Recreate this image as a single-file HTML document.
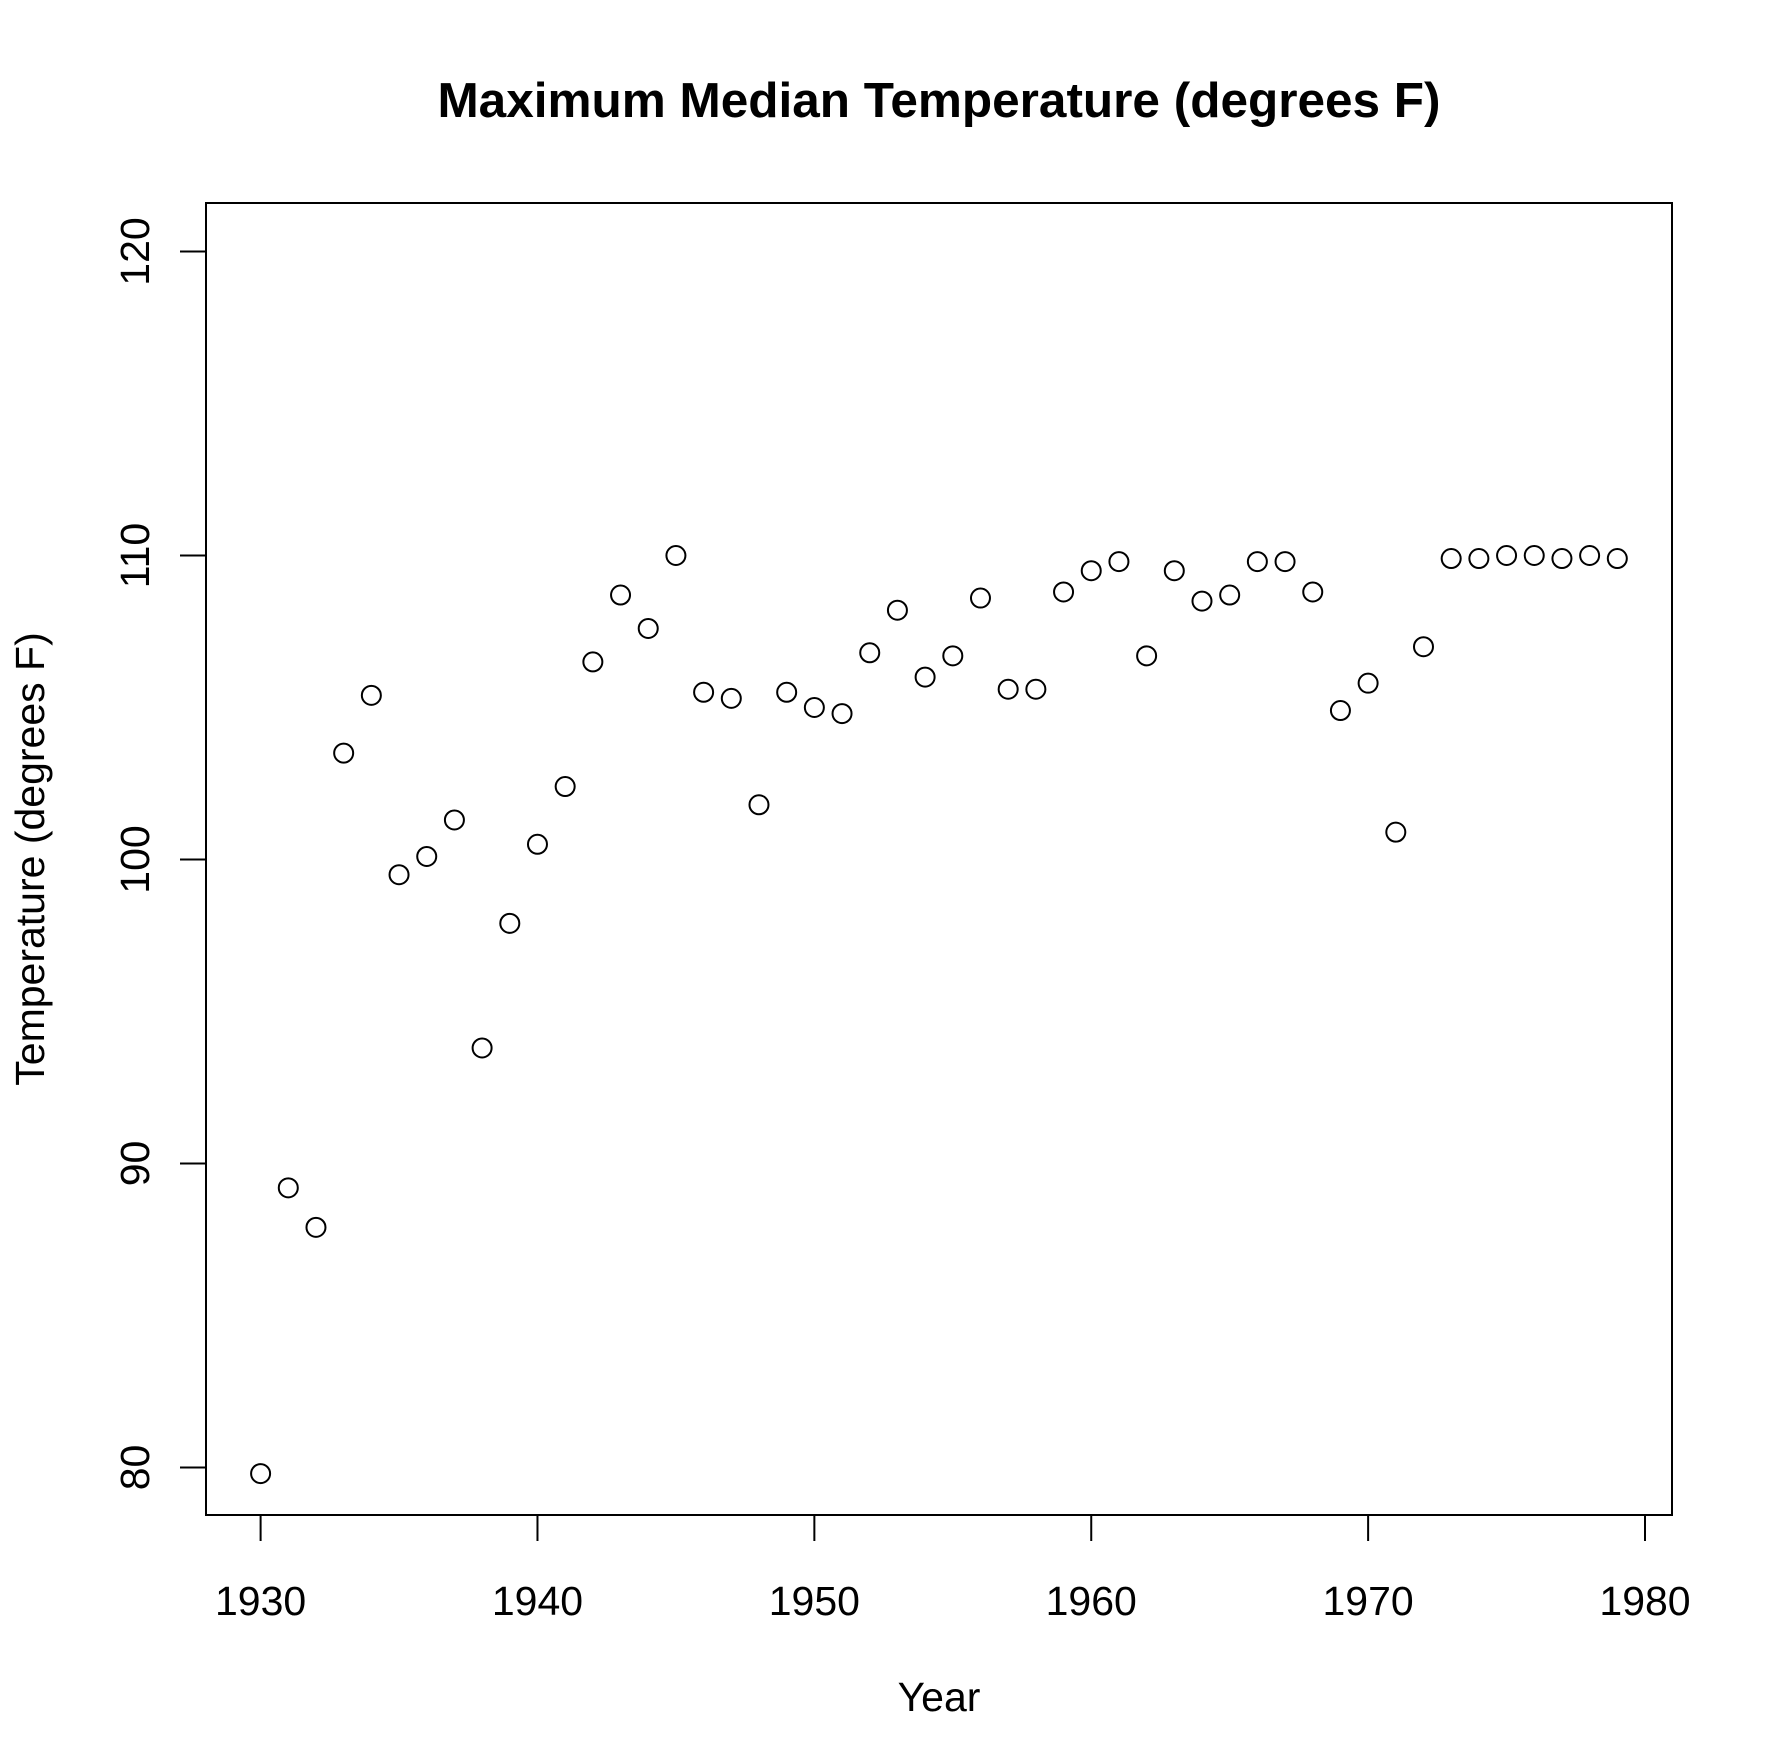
<!DOCTYPE html>
<html><head><meta charset="utf-8"><style>
body{margin:0;background:#fff}
svg{display:block;font-family:"Liberation Sans",Arial,sans-serif}
</style></head><body>
<svg id="chart" width="1768" height="1760" viewBox="0 0 1768 1760" xmlns="http://www.w3.org/2000/svg">
<text x="939" y="117" font-size="49.5" font-weight="bold" text-anchor="middle">Maximum Median Temperature (degrees F)</text>
<rect x="206" y="203" width="1466" height="1312" fill="none" stroke="#000" stroke-width="2"/>
<g id="xaxis"></g>
<g id="yaxis"></g>
<g id="points"></g>
<text x="939" y="1711" font-size="41" text-anchor="middle">Year</text>
<text transform="translate(44,859) rotate(-90)" font-size="41" text-anchor="middle">Temperature (degrees F)</text>
</svg>
<script>
const years = [];
for (let y = 1930; y <= 1979; y++) years.push(y);
const temps = [79.8,89.2,87.9,103.5,105.4,99.5,100.1,101.3,93.8,97.9,
100.5,102.4,106.5,108.7,107.6,110.0,105.5,105.3,101.8,105.5,
105.0,104.8,106.8,108.2,106.0,106.7,108.6,105.6,105.6,108.8,
109.5,109.8,106.7,109.5,108.5,108.7,109.8,109.8,108.8,104.9,
105.8,100.9,107.0,109.9,109.9,110.0,110.0,109.9,110.0,109.9];
const xTicks = [1930,1940,1950,1960,1970,1980];
const yTicks = [80,90,100,110,120];
const NS = "http://www.w3.org/2000/svg";
function sx(v){return 260.6 + (v-1930)*(1645-260.6)/50;}
function sy(v){return 1467.5 - (v-80)*(1467.5-251.5)/40;}
function mk(tag, attrs){const e=document.createElementNS(NS,tag);for(const k in attrs)e.setAttribute(k,attrs[k]);return e;}
const xa=document.getElementById('xaxis'), ya=document.getElementById('yaxis'), pts=document.getElementById('points');
xa.appendChild(mk('line',{x1:sx(1930),x2:sx(1980),y1:1515,y2:1515,stroke:'#000','stroke-width':2}));
xTicks.forEach(t=>{
  const l=mk('line',{x1:sx(t),x2:sx(t),y1:1515,y2:1541,stroke:'#000','stroke-width':2});
  
  
  xa.appendChild(l);
  const tx=mk('text',{x:sx(t),y:1615,'font-size':41,'text-anchor':'middle'});
  
  
  tx.textContent=t;xa.appendChild(tx);
});
ya.appendChild(mk('line',{x1:206,x2:206,y1:sy(80),y2:sy(120),stroke:'#000','stroke-width':2}));
yTicks.forEach(t=>{
  const l=mk('line',{x1:180,x2:206,y1:sy(t),y2:sy(t),stroke:'#000','stroke-width':2});
  
  
  ya.appendChild(l);
  const tx=mk('text',{transform:`translate(149,${sy(t)}) rotate(-90)`,'font-size':41,'text-anchor':'middle'});
  
  
  tx.textContent=t;ya.appendChild(tx);
});
years.forEach((yr,i)=>{
  const c=mk('circle',{cx:sx(yr),cy:sy(temps[i]),r:9.5,fill:'none',stroke:'#000','stroke-width':2});
  
  
  pts.appendChild(c);
});
</script>
</body></html>
